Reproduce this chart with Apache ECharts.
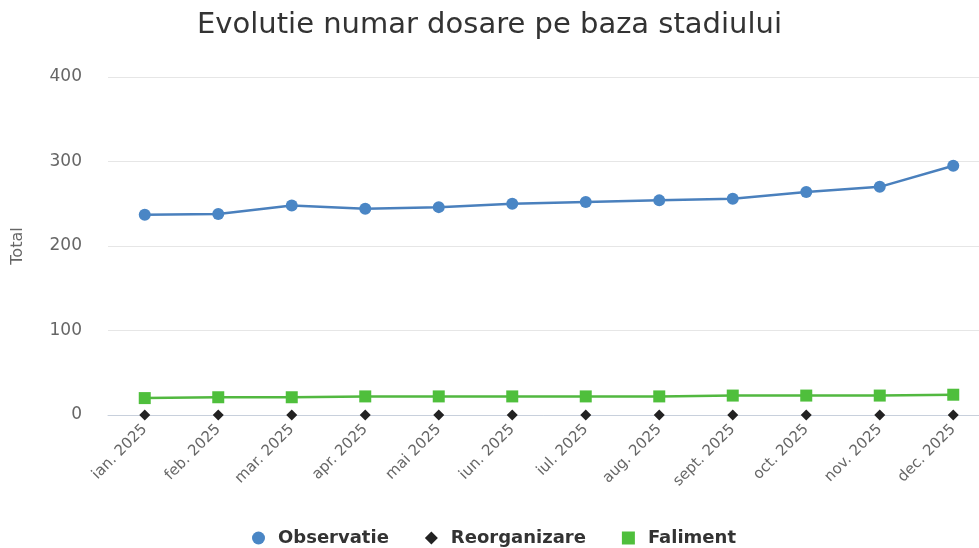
<!DOCTYPE html>
<html>
<head>
<meta charset="utf-8">
<script src="https://cdn.jsdelivr.net/npm/echarts@6/dist/echarts.min.js"></script>
<style>
  html, body { margin: 0; padding: 0; background: #fff; }
  #main { width: 979px; height: 548px; }
</style>
</head>
<body>
<div id="main"></div>
<script>
var luni = ['ian. 2025', 'feb. 2025', 'mar. 2025', 'apr. 2025', 'mai 2025', 'iun. 2025',
            'iul. 2025', 'aug. 2025', 'sept. 2025', 'oct. 2025', 'nov. 2025', 'dec. 2025'];
var observatie = [237, 238, 248, 244, 246, 250, 252, 254, 256, 264, 270, 295];
var reorganizare = [0, 0, 0, 0, 0, 0, 0, 0, 0, 0, 0, 0];
var faliment = [20, 21, 21, 22, 22, 22, 22, 22, 23, 23, 23, 24];

var myChart = echarts.init(document.getElementById('main'));

var option = {
    animation: false,
    textStyle: { fontFamily: 'DejaVu Sans' },
    title: {
        text: 'Evolutie numar dosare pe baza stadiului',
        left: 'center',
        top: 6,
        textStyle: { fontSize: 29, fontWeight: 'normal', color: '#333', fontFamily: 'DejaVu Sans' }
    },
    legend: {
        top: 524,
        left: 247,
        itemGap: 36,
        itemWidth: 13,
        itemHeight: 13,
        textStyle: { fontSize: 18, fontWeight: 'bold', color: '#333', padding: [0, 0, 0, 8] },
        data: [
            { name: 'Observatie', icon: 'circle' },
            { name: 'Reorganizare', icon: 'diamond' },
            { name: 'Faliment', icon: 'rect' }
        ]
    },
    grid: { left: 108, width: 882, top: 77, bottom: 133, outerBoundsMode: 'none', containLabel: false },
    xAxis: {
        type: 'category',
        data: luni,
        axisLine: { lineStyle: { color: '#c8d0dc' } },
        axisTick: { show: false },
        axisLabel: { rotate: 45, fontSize: 15, color: '#666', margin: 12 }
    },
    yAxis: {
        type: 'value',
        min: 0,
        max: 400,
        interval: 100,
        name: 'Total',
        nameLocation: 'middle',
        nameGap: 82,
        nameTextStyle: { fontSize: 16, color: '#666' },
        axisLabel: { fontSize: 17, color: '#666', margin: 26 },
        splitLine: { lineStyle: { color: '#e6e6e6' } }
    },
    series: [
        {
            name: 'Observatie',
            type: 'line',
            data: observatie,
            symbol: 'circle',
            symbolSize: 12,
            itemStyle: { color: '#4a86c5' },
            lineStyle: { width: 2.5, color: '#4a80bd' }
        },
        {
            name: 'Reorganizare',
            type: 'line',
            data: reorganizare,
            symbol: 'diamond',
            symbolSize: 11,
            itemStyle: { color: '#222' },
            lineStyle: { width: 0, opacity: 0 }
        },
        {
            name: 'Faliment',
            type: 'line',
            data: faliment,
            symbol: 'rect',
            symbolSize: 12,
            itemStyle: { color: '#4fbf3c' },
            lineStyle: { width: 2.5, color: '#52b840' }
        }
    ]
};

myChart.setOption(option);
</script>
</body>
</html>
